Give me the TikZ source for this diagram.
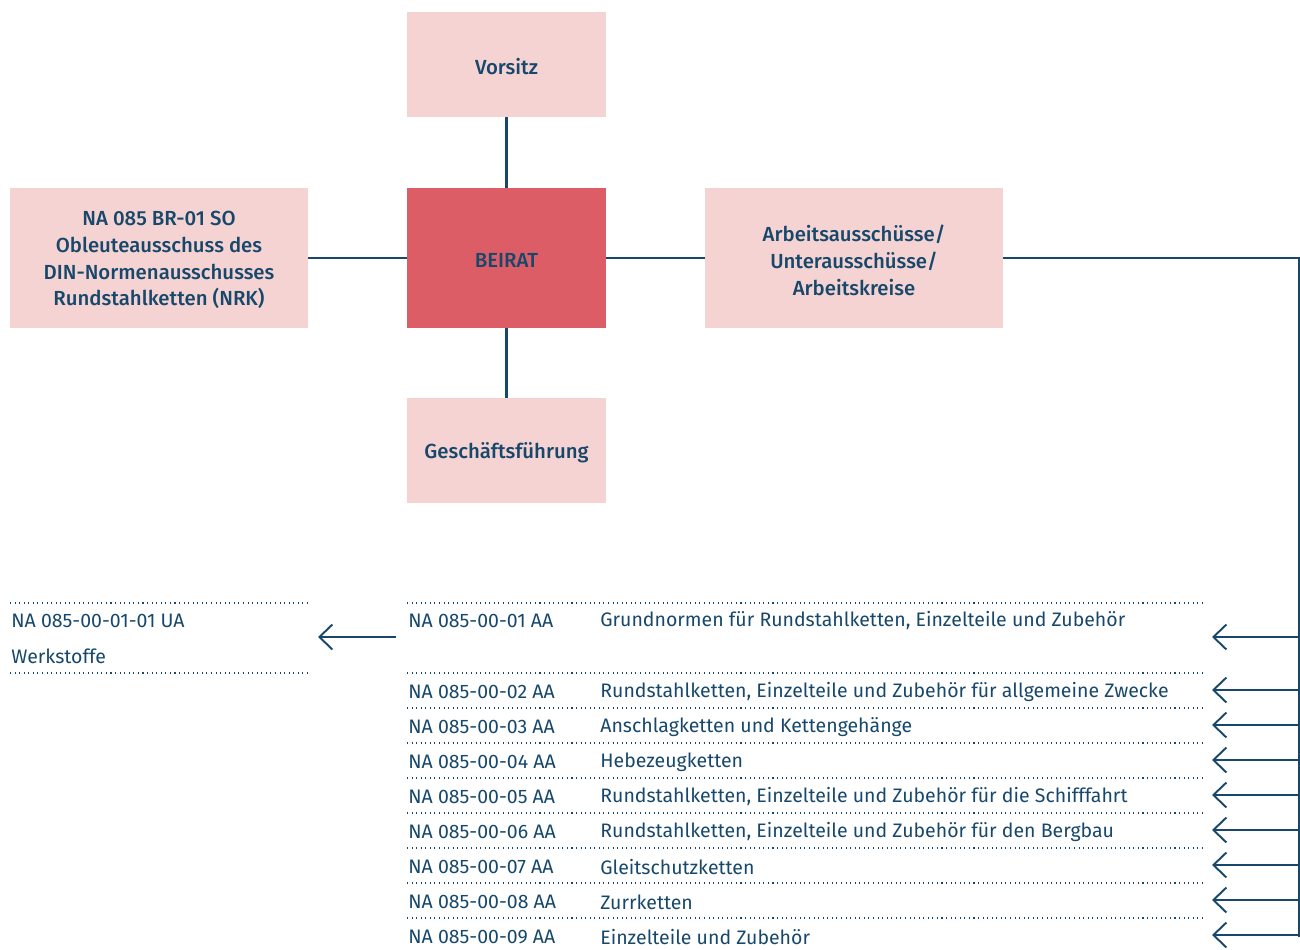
\documentclass[tikz,border=0pt]{standalone}
\usepackage{fontspec}
\setmainfont{Fira Sans}[BoldFont={Fira Sans Medium}]
\usetikzlibrary{arrows.meta}

\definecolor{dinblue}{HTML}{17486B}
\definecolor{dinpink}{HTML}{F5D3D2}
\definecolor{dinred}{HTML}{DC5D66}

\tikzset{
  orgbox/.style={fill=dinpink, text=dinblue, align=center, inner sep=0pt,
    font=\fontsize{11.6}{15.3}\selectfont\bfseries},
  boxlabel/.style={text=dinblue, align=center, inner sep=0pt, yshift=-0.04cm,
    font=\fontsize{11.6}{15.3}\selectfont\bfseries},
  rowtext/.style={anchor=west, text=dinblue, inner sep=0pt, yshift=-0.04cm,
    font=\fontsize{11.1}{13}\selectfont},
  link/.style={draw=dinblue, line width=1.2pt},
  rule/.style={draw=dinblue, line width=0.6pt, dotted},
  feed/.style={draw=dinblue, line width=1.2pt,
    -{Straight Barb[length=0.26cm, width=0.5cm, line width=1.1pt]}}
}

\begin{document}
\begin{tikzpicture}[x=0.02cm, y=-0.02cm]
	\useasboundingbox (0,0) rectangle (1300,949);
	% upper boxes
	\node[orgbox, minimum width=3.98cm, minimum height=2.1cm] (vorsitz) at (506.5,64.5) {};
	\node[orgbox, fill=dinred, minimum width=3.98cm, minimum height=2.8cm] (beirat) at (506.5,258) {};
	\node[orgbox, minimum width=5.96cm, minimum height=2.8cm] (obleute) at (159,258) {};
	\node[orgbox, minimum width=5.96cm, minimum height=2.8cm] (ausschuss) at (854,258) {};
	\node[orgbox, minimum width=3.98cm, minimum height=2.1cm] (gf) at (506.5,450.5) {};
	\node[boxlabel] (vorsitzlabel) at (vorsitz) {Vorsitz};
	\node[boxlabel] (beiratlabel) at (beirat) {BEIRAT};
	\node[boxlabel] (obleutelabel) at (obleute)
		{NA 085 BR-01 SO\\Obleuteausschuss des\\DIN-Normenausschusses\\Rundstahlketten (NRK)};
	\node[boxlabel] (ausschusslabel) at (ausschuss)
		{Arbeitsausschüsse/\\Unterausschüsse/\\Arbeitskreise};
	\node[boxlabel] (gflabel) at (gf) {Geschäftsführung};
	\draw[link] (vorsitz) -- (beirat);
	\draw[link] (beirat) -- (gf);
	\draw[link] (obleute) -- (beirat);
	\draw[link] (beirat) -- (ausschuss);
	% trunk on the right
	\coordinate (trunk) at (1299,937);
	\draw[link] (ausschuss.east) -| (trunk);
	% first committee with its subcommittee
	\draw[rule] (407,603) -- (1202,603);
	\node[rowtext] (code1) at (408,619) {NA 085-00-01 AA};
	\node[rowtext] (title1) at (600,619) {Grundnormen für Rundstahlketten, Einzelteile und Zubehör};
	\coordinate (in1) at (1299,637);
	\coordinate (tip1) at (1212,637);
	\draw[feed] (in1) -- (tip1);
	\draw[rule] (10,603) -- (308,603);
	\draw[rule] (10,673) -- (308,673);
	\node[rowtext] (ua) at (11,619) {NA 085-00-01-01 UA};
	\node[rowtext] (werk) at (11,654) {Werkstoffe};
	\coordinate (out1) at (396,637);
	\coordinate (uatip) at (318,637);
	\draw[feed] (out1) -- (uatip);
	% further committees
	\foreach \n/\code/\title in {
		2/02/{Rundstahlketten, Einzelteile und Zubehör für allgemeine Zwecke},
		3/03/{Anschlagketten und Kettengehänge},
		4/04/{Hebezeugketten},
		5/05/{Rundstahlketten, Einzelteile und Zubehör für die Schifffahrt},
		6/06/{Rundstahlketten, Einzelteile und Zubehör für den Bergbau},
		7/07/{Gleitschutzketten},
		8/08/{Zurrketten},
		9/09/{Einzelteile und Zubehör}} {
		\pgfmathsetmacro{\rowy}{690+(\n-2)*35}
		\draw[rule] (407,\rowy-17) -- (1202,\rowy-17);
		\node[rowtext] (code\n) at (408,\rowy) {NA 085-00-\code\ AA};
		\node[rowtext] (title\n) at (600,\rowy) {\title};
		\coordinate (in\n) at (1299,\rowy);
		\coordinate (tip\n) at (1212,\rowy);
		\draw[feed] (in\n) -- (tip\n);
	}
\end{tikzpicture}
\end{document}
